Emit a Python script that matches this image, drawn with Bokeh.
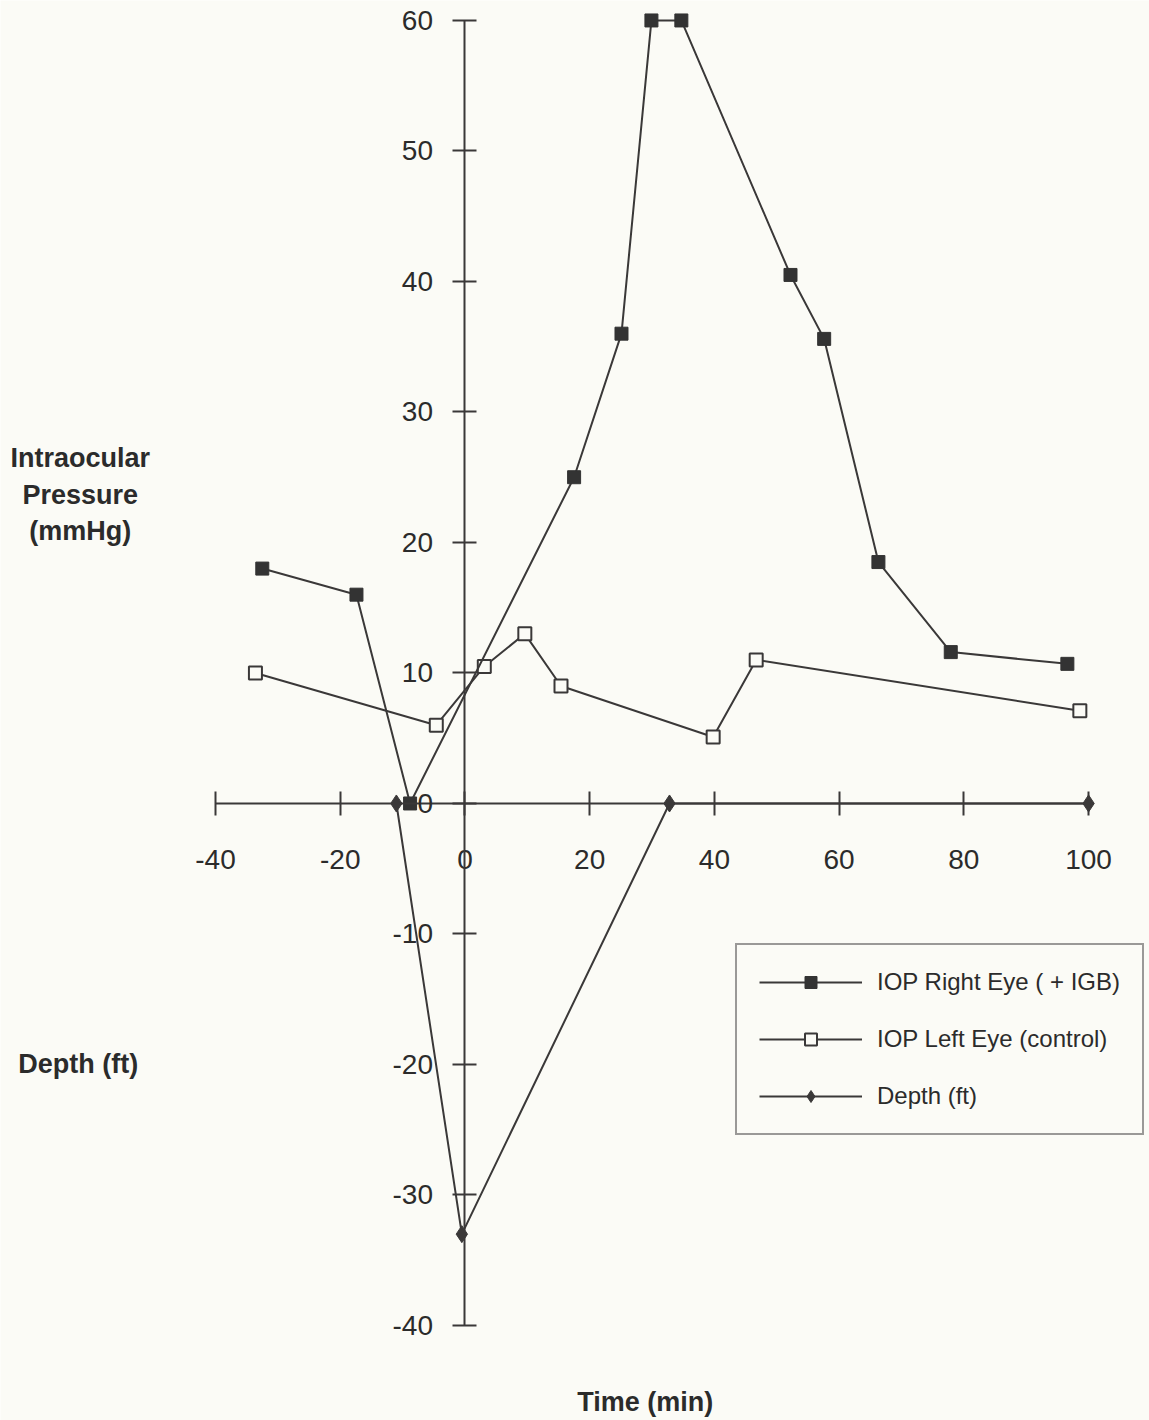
from bokeh.plotting import figure
from bokeh.models import Range1d, FixedTicker, Label, Legend, LegendItem, LinearAxis
from bokeh.embed import file_html
from bokeh.resources import INLINE

# ---- data ----
right_t = [-32.5, -17.4, -8.8, 17.5, 25.1, 29.9, 34.7, 52.2, 57.6, 66.3, 77.9, 96.6]
right_iop = [18.0, 16.0, 0.0, 25.0, 36.0, 60.0, 60.0, 40.5, 35.6, 18.5, 11.6, 10.7]

left_t = [-33.6, -4.6, 3.1, 9.6, 15.4, 39.8, 46.7, 98.6]
left_iop = [10.0, 6.0, 10.5, 13.0, 9.0, 5.1, 11.0, 7.1]

depth_t = [-11.0, -0.5, 32.8, 100.0]
depth_ft = [0.0, -33.0, 0.0, 0.0]

x_ticks = [-40, -20, 0, 20, 40, 60, 80, 100]
x_tick_labels = ["-40", "-20", "0", "20", "40", "60", "80", "100"]
y_ticks = [-40, -30, -20, -10, 0, 10, 20, 30, 40, 50, 60]
y_tick_labels = ["-40", "-30", "-20", "-10", "0", "10", "20", "30", "40", "50", "60"]

BG = "#fbfbf6"
INK = "#3a3838"
TXT = "#2b2b2b"
FONT = "Liberation Sans"

W, H = 1149, 1420
p = figure(width=W, height=H, output_backend="svg", toolbar_location=None,
           x_range=Range1d(-74.48, 109.77), y_range=Range1d(-47.28, 61.53),
           x_axis_location=None, y_axis_location=None, min_border=0)
p.background_fill_color = BG
p.border_fill_color = BG
p.outline_line_color = None
p.xgrid.visible = False
p.ygrid.visible = False

xa = LinearAxis(fixed_location=0, bounds=(-40, 100), ticker=FixedTicker(ticks=x_ticks))
xa.major_label_overrides = {t: s for t, s in zip(x_ticks, x_tick_labels)}
ya = LinearAxis(fixed_location=0, bounds=(-40, 60), ticker=FixedTicker(ticks=y_ticks))
ya.major_label_overrides = {t: s for t, s in zip(y_ticks, y_tick_labels)}
for ax in (xa, ya):
    ax.axis_line_color = INK
    ax.axis_line_width = 2
    ax.major_tick_line_color = INK
    ax.major_tick_line_width = 2
    ax.major_tick_in = 12
    ax.major_tick_out = 12
    ax.minor_tick_in = 0
    ax.minor_tick_out = 0
    ax.major_label_text_font = FONT
    ax.major_label_text_font_size = "28px"
    ax.major_label_text_color = TXT
xa.major_label_standoff = 35
ya.major_label_standoff = 20
p.add_layout(xa, "below")
p.add_layout(ya, "left")

# ---- series ----
d_line = p.line(depth_t, depth_ft, line_color=INK, line_width=2)
d_pts = p.scatter(depth_t, depth_ft, marker="diamond", size=17, fill_color=INK, line_color=INK)

l_line = p.line(left_t, left_iop, line_color=INK, line_width=2)
l_pts = p.scatter(left_t, left_iop, marker="square", size=13, fill_color=BG, line_color=INK, line_width=2)

r_line = p.line(right_t, right_iop, line_color=INK, line_width=2)
r_pts = p.scatter(right_t, right_iop, marker="square", size=13, fill_color="#333333", line_color="#333333")

legend = Legend(items=[
    LegendItem(label="IOP Right Eye ( + IGB)", renderers=[r_line, r_pts]),
    LegendItem(label="IOP Left Eye (control)", renderers=[l_line, l_pts]),
    LegendItem(label="Depth (ft)", renderers=[d_line, d_pts]),
], location=(735, 285))
legend.glyph_width = 103
legend.glyph_height = 30
legend.label_height = 30
legend.label_standoff = 15
legend.spacing = 27
legend.padding = 22
legend.margin = 0
legend.border_line_color = INK
legend.border_line_width = 2
legend.background_fill_color = BG
legend.background_fill_alpha = 1
legend.label_text_font = FONT
legend.label_text_font_size = "24px"
legend.label_text_color = TXT
p.add_layout(legend, "center")

# ---- axis titles ----
p.add_layout(Label(x=-61.7, y=27.6, text="Intraocular\nPressure\n(mmHg)", text_align="center",
                   text_baseline="top", text_font=FONT, text_font_size="27px", text_font_style="bold",
                   text_color=TXT, text_line_height=1.22))
p.add_layout(Label(x=-62.0, y=-20.0, text="Depth (ft)", text_align="center", text_baseline="middle",
                   text_font=FONT, text_font_size="27px", text_font_style="bold", text_color=TXT))
p.add_layout(Label(x=28.9, y=-45.9, text="Time (min)", text_align="center", text_baseline="alphabetic",
                   text_font=FONT, text_font_size="27px", text_font_style="bold", text_color=TXT))

open("out.html", "w").write(file_html(p, INLINE))
